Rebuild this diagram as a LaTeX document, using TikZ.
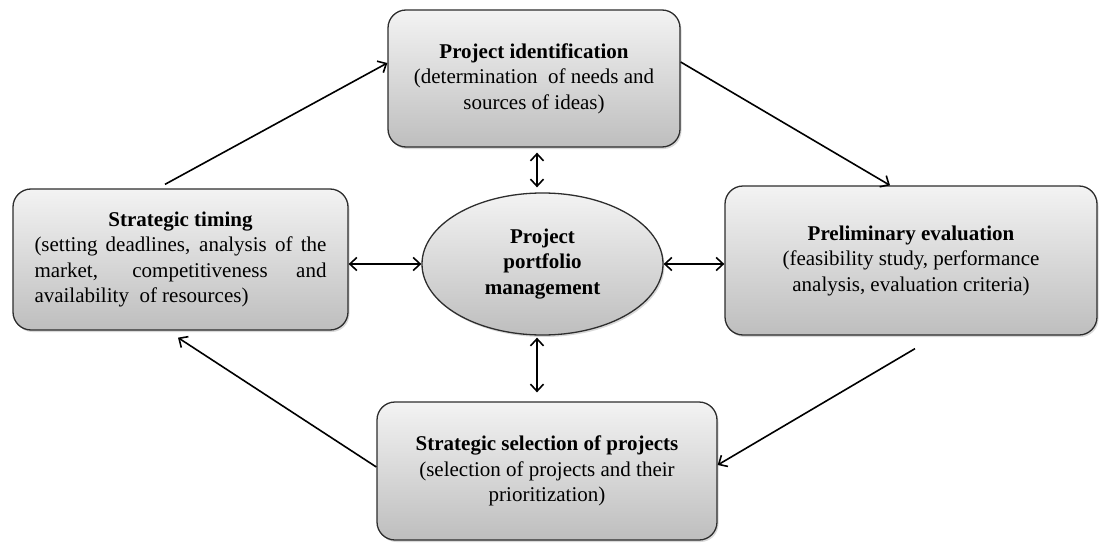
\documentclass[tikz,border=0pt]{standalone}
\usepackage{fontspec}
\setmainfont{Liberation Serif}
\usetikzlibrary{arrows.meta,shadows,shapes.geometric}
\definecolor{boxline}{RGB}{45,45,45}
\definecolor{shadetop}{RGB}{243,243,243}
\definecolor{shadebot}{RGB}{190,190,190}

\begin{document}
\begin{tikzpicture}[x=1pt, y=-1pt,
    font=\fontsize{21}{25.5}\selectfont,
    stage/.style={draw=boxline, line width=1.3pt, rounded corners=18pt,
      top color=shadetop, bottom color=shadebot, align=center, inner sep=0pt,
      drop shadow={shadow xshift=1.5pt, shadow yshift=-2pt, opacity=0.3}},
    hub/.style={stage, ellipse, rounded corners=0pt},
    flow/.style={-{Straight Barb[length=7pt,width=13pt]}, line width=1.6pt},
    link/.style={{Straight Barb[length=7pt,width=13pt]}-{Straight Barb[length=7pt,width=13pt]}, line width=1.6pt},
  ]
  \useasboundingbox (0,0) rectangle (1100,543);

  % boxes of the cycle
  \node[stage, minimum width=292pt, minimum height=137pt] (ident) at (534,78.5)
    {\textbf{Project identification}\\ (determination\ \ of needs and\\ sources of ideas)};
  \node[stage, minimum width=335pt, minimum height=141pt] (timing) at (180.5,259.5)
    {\textbf{Strategic timing}\\
     \makebox[292pt][s]{(setting deadlines, analysis of the}\\
     \makebox[292pt][s]{market, competitiveness and}\\
     \makebox[292pt][l]{availability\ \ of resources)}};
  \node[stage, minimum width=372pt, minimum height=149pt] (prelim) at (911,260.5)
    {\textbf{Preliminary evaluation}\\ (feasibility study, performance\\ analysis, evaluation criteria)};
  \node[stage, minimum width=340pt, minimum height=138pt] (select) at (547,471)
    {\textbf{Strategic selection of projects}\\ (selection of projects and their\\ prioritization)};

  % centre
  \node[hub, minimum width=241pt, minimum height=142pt] (ppm) at (542.5,264)
    {\textbf{Project}\\ \textbf{portfolio}\\ \textbf{management}};

  % cycle arrows
  \draw[flow] ([xshift=-15.5pt,yshift=4pt]timing.north) -- ([yshift=15.5pt]ident.west);
  \draw[flow] ([yshift=16.5pt]ident.east) -- ([xshift=-21pt]prelim.north);
  \draw[flow] ([xshift=4pt,yshift=-13pt]prelim.south) -- ([yshift=6pt]select.east);
  \draw[flow] ([yshift=4pt]select.west) -- ([xshift=-2.5pt,yshift=-7pt]timing.south);

  % links to the centre
  \coordinate (hubtop) at ([xshift=-5.5pt]ppm.north);
  \coordinate (hubbot) at ([xshift=-5.5pt]ppm.south);
  \draw[link, shorten <=5pt, shorten >=5pt] (hubtop |- ident.south) -- (hubtop);
  \draw[link, shorten <=2pt, shorten >=9pt] (hubbot) -- (hubbot |- select.north);
  \draw[link] (timing.east |- ppm.west) -- (ppm.west);
  \draw[link] (ppm.east) -- (ppm.east -| prelim.west);
\end{tikzpicture}
\end{document}
